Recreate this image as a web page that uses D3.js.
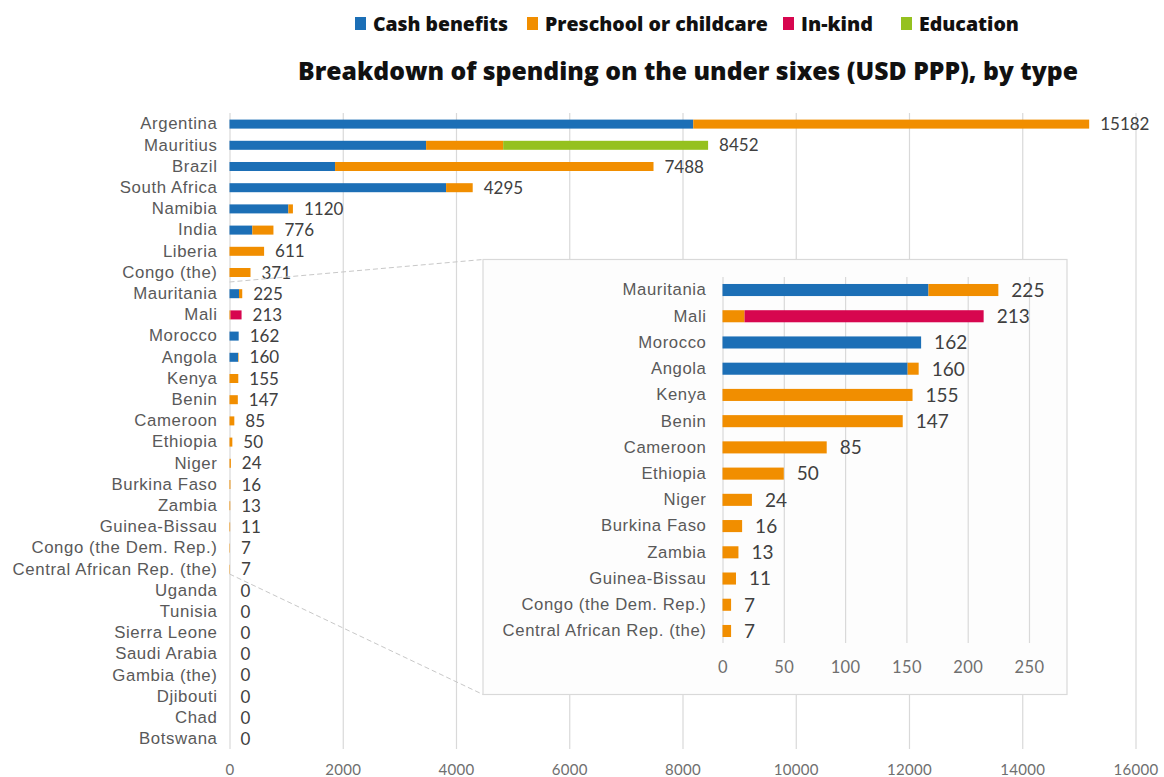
<!DOCTYPE html>
<html><head><meta charset="utf-8">
<script src="https://cdn.jsdelivr.net/npm/d3@7"></script>
<style>
body{margin:0;background:#fff;}
svg{display:block;font-family:"Open Sans","Noto Sans",sans-serif;}
</style></head>
<body><svg id="chart" width="1164" height="777"></svg>
<script>
// ---- data ----
const countries = ["Argentina","Mauritius","Brazil","South Africa","Namibia","India","Liberia","Congo (the)","Mauritania","Mali","Morocco","Angola","Kenya","Benin","Cameroon","Ethiopia","Niger","Burkina Faso","Zambia","Guinea-Bissau","Congo (the Dem. Rep.)","Central African Rep. (the)","Uganda","Tunisia","Sierra Leone","Saudi Arabia","Gambia (the)","Djibouti","Chad","Botswana"];
const cashBenefits = [8190,3472,1864,3825,1039,403,0,0,168,0,162,151,0,0,0,0,0,0,0,0,0,0,0,0,0,0,0,0,0,0];
const preschool    = [6992,1361,5624,470,81,373,611,371,57,18,0,9,155,147,85,50,24,16,13,11,7,7,0,0,0,0,0,0,0,0];
const inKind       = [0,0,0,0,0,0,0,0,0,195,0,0,0,0,0,0,0,0,0,0,0,0,0,0,0,0,0,0,0,0];
const education    = [0,3619,0,0,0,0,0,0,0,0,0,0,0,0,0,0,0,0,0,0,0,0,0,0,0,0,0,0,0,0];
const totals       = [15182,8452,7488,4295,1120,776,611,371,225,213,162,160,155,147,85,50,24,16,13,11,7,7,0,0,0,0,0,0,0,0];
const seriesNames  = ["Cash benefits","Preschool or childcare","In-kind","Education"];
const mainTicks    = [0,2000,4000,6000,8000,10000,12000,14000,16000];
const insetTicks   = [0,50,100,150,200,250];
const insetFirst = "Mauritania", insetLast = "Central African Rep. (the)";
const titleText = "Breakdown of spending on the under sixes (USD PPP), by type";

// ---- styles ----
const colors = ["#1c6fb6","#f18e00","#d7064f","#95c11f"];
const keys = ["cash","pre","kind","edu"];
const rows = countries.map((c,i)=>({country:c,cash:cashBenefits[i],pre:preschool[i],kind:inKind[i],edu:education[i],total:totals[i]}));
const stack = d3.stack().keys(keys)(rows);

const svg = d3.select("#chart");
const grid = "#d9d9d9", txt = "#595959", val = "#404040", tick = "#6f6f6f";

function fit(sel, target){
  const w = sel.node().getComputedTextLength();
  const fs = parseFloat(sel.attr("font-size"));
  sel.attr("font-size", fs*target/w);
}

// ---- legend ----
const legendX = [355,527,783,901];
const legendW = [135,223,72,100];
const lg = svg.append("g");
seriesNames.forEach((n,i)=>{
  lg.append("rect").attr("x",legendX[i]).attr("y",17).attr("width",11).attr("height",13).attr("fill",colors[i]);
  const t = lg.append("text").attr("x",legendX[i]+18).attr("y",30.5).attr("font-size",18).attr("font-weight",800).attr("fill","#111").text(n);
  fit(t, legendW[i]);
});
const title = svg.append("text").attr("x",688).attr("y",80).attr("text-anchor","middle").attr("font-size",22).attr("font-weight",800).attr("fill","#111").text(titleText);
fit(title, 780);

// ---- main chart ----
const x = d3.scaleLinear().domain([0,16000]).range([229.5,1135.5]);
const y = d3.scaleBand().domain(countries).range([113.5,749.5]).paddingInner(0.575).paddingOuter(0.2875);
const gTop = 113, gBot = 749;

const xAxis = svg.append("g").attr("transform",`translate(0,${gBot})`)
  .call(d3.axisBottom(x).tickValues(mainTicks).tickSize(-(gBot-gTop)).tickFormat(d3.format("d")));
xAxis.select(".domain").remove();
xAxis.selectAll(".tick line").attr("stroke",grid).attr("stroke-width",1.2);
xAxis.selectAll(".tick text").attr("fill",tick).attr("font-size",15).attr("y",26).attr("dy","0").attr("font-family","Lato").attr("letter-spacing",0.3);

const yAxis = svg.append("g").attr("transform","translate(229.5,0)")
  .call(d3.axisLeft(y).tickSize(0).tickPadding(12));
yAxis.select(".domain").remove();
yAxis.selectAll(".tick text").attr("fill",txt).attr("font-size",16.8).attr("letter-spacing",0.6);

svg.append("g").selectAll("g").data(stack).join("g").attr("fill",(d,i)=>colors[i])
  .selectAll("rect").data(d=>d).join("rect")
  .attr("x",d=>x(d[0])).attr("width",d=>Math.max(0,x(d[1])-x(d[0])))
  .attr("y",d=>y(d.data.country)).attr("height",y.bandwidth());

svg.append("g").selectAll("text").data(rows).join("text")
  .attr("x",d=>x(d.total)+11).attr("y",d=>y(d.country)+y.bandwidth()/2).attr("dy","0.36em")
  .attr("fill",val).attr("font-size",17).attr("font-family","Lato").text(d=>d.total);

// ---- inset ----
const insetRows = rows.slice(countries.indexOf(insetFirst), countries.indexOf(insetLast)+1);
const insetStack = d3.stack().keys(keys)(insetRows);
const box = {x0:483,y0:259.5,x1:1067,y1:694.5};

svg.append("line").attr("x1",x(0)).attr("y1",282).attr("x2",box.x0).attr("y2",box.y0).attr("stroke","#c8c8c8").attr("stroke-dasharray","5,3");
svg.append("line").attr("x1",x(0)).attr("y1",574).attr("x2",box.x0).attr("y2",box.y1).attr("stroke","#c8c8c8").attr("stroke-dasharray","5,3");

svg.append("rect").attr("x",box.x0).attr("y",box.y0).attr("width",box.x1-box.x0).attr("height",box.y1-box.y0)
  .attr("fill","#fdfdfd").attr("stroke","#d9d9d9").attr("stroke-width",1.2);

const xi = d3.scaleLinear().domain([0,250]).range([722.5,1029]);
const yi = d3.scaleBand().domain(insetRows.map(d=>d.country)).range([276.9,644.1]).paddingInner(0.54).paddingOuter(0.27);
const giTop = 277, giBot = 643;
const xiAxis = svg.append("g").attr("transform",`translate(0,${giBot})`)
  .call(d3.axisBottom(xi).tickValues(insetTicks).tickSize(-(giBot-giTop)).tickFormat(d3.format("d")));
xiAxis.select(".domain").remove();
xiAxis.selectAll(".tick line").attr("stroke",grid).attr("stroke-width",1.2);
xiAxis.selectAll(".tick text").attr("fill",tick).attr("font-size",16.5).attr("y",30).attr("dy","0").attr("font-family","Lato").attr("letter-spacing",0.4);

const yiAxis = svg.append("g").attr("transform","translate(722.5,0)")
  .call(d3.axisLeft(yi).tickSize(0).tickPadding(16));
yiAxis.select(".domain").remove();
yiAxis.selectAll(".tick text").attr("fill",txt).attr("font-size",16.7).attr("letter-spacing",0.6);

svg.append("g").selectAll("g").data(insetStack).join("g").attr("fill",(d,i)=>colors[i])
  .selectAll("rect").data(d=>d).join("rect")
  .attr("x",d=>xi(d[0])).attr("width",d=>Math.max(0,xi(d[1])-xi(d[0])))
  .attr("y",d=>yi(d.data.country)).attr("height",yi.bandwidth());

svg.append("g").selectAll("text").data(insetRows).join("text")
  .attr("x",d=>xi(d.total)+13).attr("y",d=>yi(d.country)+yi.bandwidth()/2).attr("dy","0.36em")
  .attr("fill",val).attr("font-size",19).attr("font-family","Lato").text(d=>d.total);
</script></body></html>
